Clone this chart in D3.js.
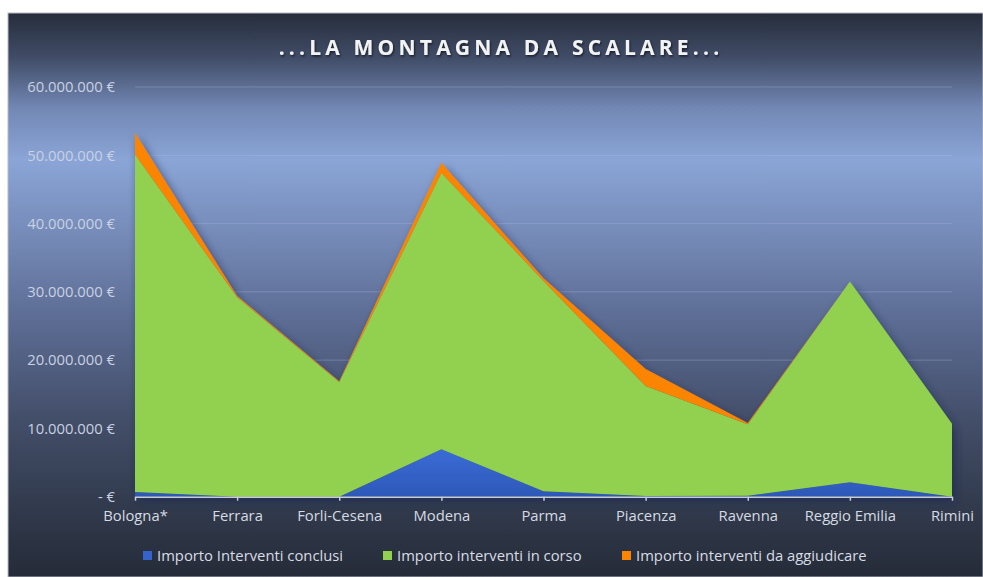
<!DOCTYPE html>
<meta charset="utf-8">
<style>
body { margin: 0; background: #fff; }
text { font-family: "Open Sans", "Noto Sans", sans-serif; }
.tick text { fill: #c9d1e2; font-size: 14.8px; }
.xlab text { fill: #d6dae2; }
.legend text { fill: #d8dce4; font-size: 14.8px; }
</style>
<svg width="983" height="577"></svg>
<script src="https://d3js.org/d3.v7.min.js"></script>
<script>

// data (euro)
var provinces = ["Bologna*", "Ferrara", "Forli-Cesena", "Modena", "Parma", "Piacenza", "Ravenna", "Reggio Emilia", "Rimini"];
var conclusi    = [700000, 0, 0, 6950000, 800000, 100000, 150000, 2100000, 0];
var inCorso     = [49400000, 29200000, 16800000, 40450000, 30800000, 16100000, 10450000, 29400000, 10700000];
var daAggiudic  = [3200000, 200000, 100000, 1500000, 400000, 2500000, 200000, 0, 0];
var seriesNames = ["Importo Interventi conclusi", "Importo interventi in corso", "Importo interventi da aggiudicare"];
var colors = ["#3563c9", "#92d050", "#fb8500"];
var yTicks = [0, 10000000, 20000000, 30000000, 40000000, 50000000, 60000000];

var svg = d3.select("svg");
var W = 983, H = 577;

var defs = svg.append("defs");
var bg = defs.append("linearGradient").attr("id", "bg")
    .attr("x1", 0).attr("y1", 0).attr("x2", 0).attr("y2", 1);
[[0, "#262d3b"], [0.08, "#414d68"], [0.17, "#7388b5"], [0.26, "#8aa5d6"], [0.40, "#7489b6"],
 [0.55, "#5b6b92"], [0.72, "#434e69"], [0.88, "#313a4c"], [1, "#252b38"]].forEach(function(s) {
  bg.append("stop").attr("offset", s[0]).attr("stop-color", s[1]);
});
var blueGrad = defs.append("linearGradient").attr("id", "blueg")
    .attr("x1", 0).attr("y1", 0).attr("x2", 0).attr("y2", 1);
blueGrad.append("stop").attr("offset", 0).attr("stop-color", "#3a6cd6");
blueGrad.append("stop").attr("offset", 1).attr("stop-color", "#2d58b8");

var shadow = defs.append("filter").attr("id", "shadow")
    .attr("x", "-10%").attr("y", "-10%").attr("width", "120%").attr("height", "130%");
shadow.append("feDropShadow").attr("dx", 3).attr("dy", 5).attr("stdDeviation", 4)
    .attr("flood-color", "#1c2a52").attr("flood-opacity", 0.7);

var txtShadow = defs.append("filter").attr("id", "tshadow");
txtShadow.append("feDropShadow").attr("dx", 1).attr("dy", 1.5).attr("stdDeviation", 1)
    .attr("flood-color", "#000").attr("flood-opacity", 0.6);

// frame
svg.append("rect").attr("x", 8).attr("y", 13).attr("width", W - 8).attr("height", H - 13)
    .attr("fill", "url(#bg)").attr("stroke", "#b5b9c0").attr("stroke-width", 1);

var x = d3.scalePoint().domain(provinces).range([135, 952]);
var y = d3.scaleLinear().domain([0, 60000000]).range([496.7, 87]);

// gridlines
svg.append("g").selectAll("line").data(yTicks.slice(1)).enter().append("line")
    .attr("x1", 135).attr("x2", 952)
    .attr("y1", function(d) { return y(d); }).attr("y2", function(d) { return y(d); })
    .attr("stroke", "#a9bbe0").attr("stroke-opacity", 0.35).attr("stroke-width", 1);

var fmt = d3.formatLocale({decimal: ",", thousands: ".", grouping: [3], currency: ["", " €"]}).format(",.0f");
var yAxis = d3.axisLeft(y).tickValues(yTicks).tickSize(0).tickPadding(20)
    .tickFormat(function(d) { return d === 0 ? "- €" : fmt(d) + " €"; });
svg.append("g").attr("transform", "translate(135,0)").call(yAxis)
    .call(function(g) { g.select(".domain").remove(); });

// stacked areas
var table = provinces.map(function(p, i) {
  return {prov: p, c: conclusi[i], ic: inCorso[i], da: daAggiudic[i]};
});
var stack = d3.stack().keys(["c", "ic", "da"]);
var layers = stack(table);

var area = d3.area()
    .x(function(d) { return x(d.data.prov); })
    .y0(function(d) { return y(d[0]); })
    .y1(function(d) { return y(d[1]); });

svg.append("g").attr("filter", "url(#shadow)")
  .selectAll("path").data(layers).enter().append("path")
    .attr("d", area)
    .attr("fill", function(d, i) { return i === 0 ? "url(#blueg)" : colors[i]; });

// x axis
var xAxis = d3.axisBottom(x).tickSize(4).tickSizeOuter(0).tickPadding(10);
var xg = svg.append("g").attr("class", "xlab").attr("transform", "translate(0," + y(0) + ")").call(xAxis);
xg.select(".domain").attr("stroke", "#c8ccd4").attr("stroke-width", 1.5);
xg.selectAll(".tick line").attr("stroke", "#c8ccd4").attr("stroke-width", 1.5);
xg.selectAll(".tick text").attr("font-size", 14.8);

// title
svg.append("text").attr("x", 501).attr("y", 55).attr("text-anchor", "middle")
    .attr("fill", "#f2f3f5").attr("font-size", 21).attr("font-weight", "bold")
    .attr("letter-spacing", 4.2).attr("filter", "url(#tshadow)")
    .text("...LA MONTAGNA DA SCALARE...");

// legend
var legX = [143, 383, 622];
var leg = svg.append("g").attr("class", "legend").selectAll("g").data(seriesNames).enter().append("g")
    .attr("transform", function(d, i) { return "translate(" + legX[i] + ",561)"; });
leg.append("rect").attr("x", 0).attr("y", -10).attr("width", 9).attr("height", 9)
    .attr("fill", function(d, i) { return colors[i]; });
leg.append("text").attr("x", 14).attr("y", 0).text(function(d) { return d; });

</script>
